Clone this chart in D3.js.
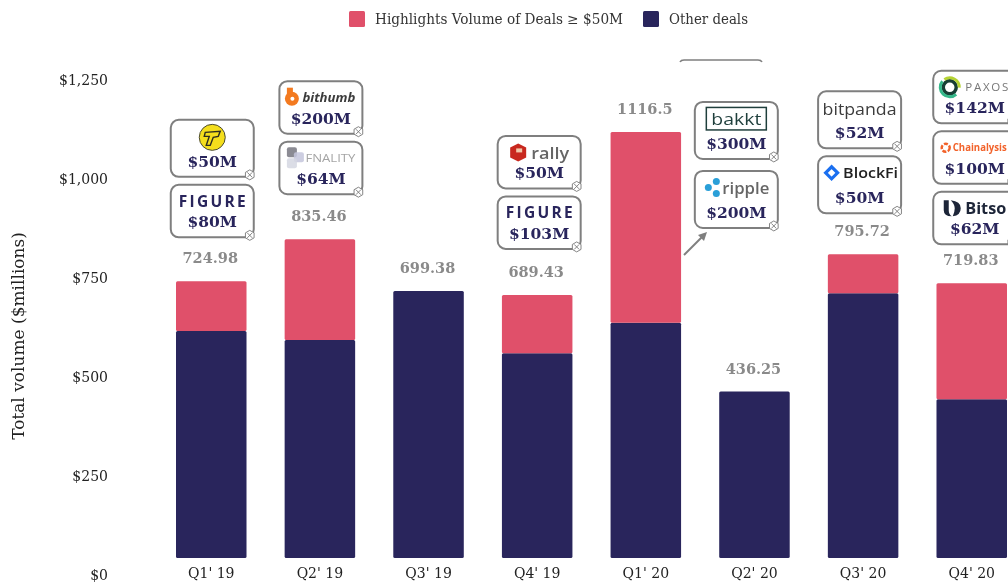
<!DOCTYPE html>
<html>
<head>
<meta charset="utf-8">
<script src="https://cdn.jsdelivr.net/npm/d3@7"></script>
<style>
    html, body { margin: 0; padding: 0; background: #fff; overflow: hidden; }
    svg { display: block; font-family: "DejaVu Serif", "Liberation Serif", serif; filter: blur(0.35px); }
    .logo { font-family: "Open Sans", "Noto Sans", sans-serif; }
</style>
</head>
<body>
<svg id="chart" width="1008" height="582"></svg>
<script>
const categories = ["Q1' 19", "Q2' 19", "Q3' 19", "Q4' 19", "Q1' 20", "Q2' 20", "Q3' 20", "Q4' 20"];
const otherDeals = [594.98, 571.46, 699.38, 536.43, 616.5, 436.25, 693.72, 415.83];
const highlightDeals = [130, 264, 0, 153, 500, 0, 102, 304];
const totalLabels = ["724.98", "835.46", "699.38", "689.43", "1116.5", "436.25", "795.72", "719.83"];
const yTicks = [0, 250, 500, 750, 1000, 1250];
const legendNames = ["Highlights Volume of Deals ≥ $50M", "Other deals"];

// callouts, bottom box first
const dealQuarter = ["Q1' 19", "Q1' 19", "Q2' 19", "Q2' 19", "Q4' 19", "Q4' 19", "Q1' 20", "Q1' 20", "Q3' 20", "Q3' 20", "Q4' 20", "Q4' 20", "Q4' 20"];
const dealLogo = ["figure", "token", "fnality", "bithumb", "figure", "rally", "ripple", "bakkt", "blockfi", "bitpanda", "bitso", "chainalysis", "paxos"];
const dealAmount = ["$80M", "$50M", "$64M", "$200M", "$103M", "$50M", "$200M", "$300M", "$50M", "$52M", "$62M", "$100M", "$142M"];

const pink = "#e0506a";
const navy = "#29255c";
const grey = "#7f7f7f";
const svg = d3.select("#chart");

// bars
const x = d3.scaleBand().domain(categories).range([176, 1007]).paddingInner(0.351).paddingOuter(0);
const yBar = d3.scaleLinear().domain([0, 1250]).range([558, 81]);
const yLabel = d3.scaleLinear().domain([0, 1250]).range([575, 80]);

const table = categories.map((c, i) => ({cat: c, other: otherDeals[i], high: highlightDeals[i]}));
const stacked = d3.stack().keys(["other", "high"])(table);

svg.append("g").selectAll("g")
    .data(stacked)
    .join("g")
    .attr("fill", d => d.key === "other" ? navy : pink)
    .selectAll("rect")
    .data(d => d.filter(s => s[1] > s[0]))
    .join("rect")
    .attr("x", d => x(d.data.cat))
    .attr("y", d => yBar(d[1]))
    .attr("width", x.bandwidth())
    .attr("height", d => yBar(d[0]) - yBar(d[1]))
    .attr("rx", 1.5);

// axes
const axisY = d3.axisLeft(yLabel).tickValues(yTicks).tickSize(0).tickPadding(0)
    .tickFormat(d => "$" + d3.format(",")(d));
svg.append("g").attr("transform", "translate(108,0)").call(axisY)
    .call(g => g.select(".domain").remove())
    .selectAll("text")
    .attr("font-family", "DejaVu Serif").attr("font-size", 14).attr("fill", "#222");

const axisX = d3.axisBottom(x).tickSize(0).tickPadding(10);
svg.append("g").attr("transform", "translate(0,558)").call(axisX)
    .call(g => g.select(".domain").remove())
    .selectAll("text")
    .attr("font-family", "DejaVu Serif").attr("font-size", 14).attr("fill", "#222");

svg.append("text")
    .attr("transform", "translate(24,336) rotate(-90)")
    .attr("text-anchor", "middle")
    .attr("font-size", 17)
    .attr("fill", "#222")
    .text("Total volume ($millions)");

// totals above the bars
svg.append("g").selectAll("text")
    .data(table)
    .join("text")
    .attr("x", d => x(d.cat) + x.bandwidth() / 2 - 1)
    .attr("y", d => yBar(d.other + d.high) - 18)
    .attr("text-anchor", "middle")
    .attr("font-size", 14.5)
    .attr("font-weight", "bold")
    .attr("fill", "#8a8a8a")
    .text((d, i) => totalLabels[i]);

// legend
const legend = svg.append("g");
const legendX = [349, 643];
legendNames.forEach((name, i) => {
    legend.append("rect")
        .attr("x", legendX[i]).attr("y", 11)
        .attr("width", 16).attr("height", 16).attr("rx", 1.5)
        .attr("fill", i === 0 ? pink : navy);
    legend.append("text")
        .attr("x", legendX[i] + 26).attr("y", 24)
        .attr("font-size", 14)
        .attr("fill", "#333")
        .attr("textLength", i === 0 ? 248 : 79)
        .attr("lengthAdjust", "spacingAndGlyphs")
        .text(name);
});

// logos, drawn round (cx, cy)
function logoText(g, str, cx, cy, size, fill, opts = {}) {
    const t = g.append("text")
        .attr("class", "logo")
        .attr("x", cx).attr("y", cy + size * 0.36)
        .attr("text-anchor", "middle")
        .attr("font-size", size)
        .attr("fill", fill)
        .attr("font-weight", opts.weight || "normal")
        .attr("font-style", opts.style || "normal")
        .text(str);
    if(opts.len)
        t.attr("textLength", opts.len).attr("lengthAdjust", opts.adjust || "spacingAndGlyphs");
    return t;
}

const logos = {
    figure(g, cx, cy) {
        logoText(g, "FIGURE", cx, cy, 15.5, navy, {weight: "bold", len: 67, adjust: "spacing"});
    },
    token(g, cx, cy) {
        g.append("circle").attr("cx", cx).attr("cy", cy + 1).attr("r", 13)
            .attr("fill", "#f4de1c").attr("stroke", "#4a4a30").attr("stroke-width", 1);
        g.append("path")
            .attr("d", d3.line()([[cx - 7, cy - 4], [cx + 8, cy - 5], [cx + 6, cy], [cx + 1, cy + 1], [cx - 2, cy + 9], [cx - 6, cy + 9], [cx - 3, cy], [cx - 8, cy]]) + "Z")
            .attr("fill", "none").attr("stroke", "#2c2c20").attr("stroke-width", 1.4);
    },
    bithumb(g, cx, cy) {
        g.append("circle").attr("cx", cx - 29).attr("cy", cy + 1).attr("r", 7).attr("fill", "#f37a20");
        g.append("rect").attr("x", cx - 34).attr("y", cy - 10).attr("width", 6).attr("height", 8).attr("fill", "#f37a20");
        g.append("circle").attr("cx", cx - 28.5).attr("cy", cy + 1).attr("r", 2).attr("fill", "#fff");
        logoText(g, "bithumb", cx + 8, cy, 13, "#3c3c3c", {weight: "bold", style: "italic", len: 53});
    },
    fnality(g, cx, cy) {
        g.append("rect").attr("x", cx - 34).attr("y", cy - 11).attr("width", 10).attr("height", 10).attr("rx", 2).attr("fill", "#8b8b93");
        g.append("rect").attr("x", cx - 27).attr("y", cy - 6).attr("width", 10).attr("height", 10).attr("rx", 2).attr("fill", "#c4c5dc").attr("opacity", 0.85);
        g.append("rect").attr("x", cx - 34).attr("y", cy).attr("width", 10).attr("height", 10).attr("rx", 2).attr("fill", "#d5d7e2").attr("opacity", 0.85);
        logoText(g, "FNALITY", cx + 9.5, cy, 10.5, "#a5a5a5", {len: 50});
    },
    rally(g, cx, cy) {
        g.append("path")
            .attr("d", d3.line()([[cx - 29, cy - 5], [cx - 21, cy - 9], [cx - 13, cy - 5], [cx - 13, cy + 5], [cx - 21, cy + 9], [cx - 29, cy + 5]]) + "Z")
            .attr("fill", "#c8281e");
        g.append("rect").attr("x", cx - 23).attr("y", cy - 4).attr("width", 6).attr("height", 4).attr("fill", "#f2c7a8");
        logoText(g, "rally", cx + 11, cy, 17, "#666", {weight: "600", len: 38});
    },
    bakkt(g, cx, cy) {
        g.append("rect").attr("x", cx - 30).attr("y", cy - 11).attr("width", 60).attr("height", 22.5)
            .attr("fill", "none").attr("stroke", "#1f3f3c").attr("stroke-width", 1.5);
        logoText(g, "bakkt", cx, cy, 17, "#1f3f3c", {len: 50});
    },
    ripple(g, cx, cy) {
        [[-28, 0], [-20, -6], [-20, 6]].forEach(p =>
            g.append("circle").attr("cx", cx + p[0]).attr("cy", cy + p[1]).attr("r", 3.5).attr("fill", "#2a9fd8"));
        logoText(g, "ripple", cx + 9.5, cy, 17, "#666", {weight: "600", len: 47});
    },
    bitpanda(g, cx, cy) {
        logoText(g, "bitpanda", cx, cy + 1, 17, "#3c3c3c", {len: 74});
    },
    blockfi(g, cx, cy) {
        g.append("path")
            .attr("d", d3.line()([[cx - 34, cy], [cx - 28, cy - 6], [cx - 22, cy], [cx - 28, cy + 6]]) + "Z")
            .attr("fill", "none").attr("stroke", "#1a6ff0").attr("stroke-width", 3.2);
        logoText(g, "BlockFi", cx + 11, cy, 14.5, "#222", {weight: "600", len: 55});
    },
    paxos(g, cx, cy) {
        g.append("circle").attr("cx", cx - 25).attr("cy", cy).attr("r", 6.5)
            .attr("fill", "none").attr("stroke", "#173f35").attr("stroke-width", 3.5);
        g.append("path").attr("d", d3.arc()({innerRadius: 8, outerRadius: 11, startAngle: -0.6, endAngle: 1.6}))
            .attr("transform", `translate(${cx - 25},${cy})`).attr("fill", "#b5d334");
        g.append("path").attr("d", d3.arc()({innerRadius: 8, outerRadius: 11, startAngle: 2.4, endAngle: 5.4}))
            .attr("transform", `translate(${cx - 25},${cy})`).attr("fill", "#35b88a");
        logoText(g, "PAXOS", cx + 12, cy, 11.5, "#777", {len: 43, adjust: "spacing"});
    },
    chainalysis(g, cx, cy) {
        g.append("circle").attr("cx", cx - 29).attr("cy", cy).attr("r", 4)
            .attr("fill", "none").attr("stroke", "#f2622a").attr("stroke-width", 2.5)
            .attr("stroke-dasharray", "4 1.5");
        logoText(g, "Chainalysis", cx + 5, cy, 10, "#f2622a", {weight: "bold", len: 54});
    },
    bitso(g, cx, cy) {
        g.append("path")
            .attr("d", `M${cx - 31},${cy - 8} h5 v10 q0,4 3,6 q-8,0 -8,-6 z`)
            .attr("fill", "#1d2538");
        g.append("path")
            .attr("d", `M${cx - 24},${cy - 8} q10,1 10,8 q0,7 -8,8 q2,-4 2,-8 q0,-4 -4,-8 z`)
            .attr("fill", "#1d2538");
        logoText(g, "Bitso", cx + 11, cy, 16, "#1d2538", {weight: "bold", len: 41});
    }
};

// stack placement per quarter: x shift from the bar, y of the lowest box bottom
const stackDx = {"Q1' 19": 1, "Q2' 19": 1, "Q4' 19": 2, "Q1' 20": 90.5, "Q3' 20": -3.5, "Q4' 20": 3};
const stackBottom = {"Q1' 19": 44, "Q2' 19": 45, "Q4' 19": 46, "Q1' 20": -96, "Q3' 20": 41, "Q4' 20": 39};
const boxW = 83, boxGap = 8;
const barTop = cat => yBar(table.find(d => d.cat === cat).other + table.find(d => d.cat === cat).high);
const nextBottom = {};

dealQuarter.forEach((q, i) => {
    const tall = q === "Q1' 20" || dealLogo[i] === "token" || q === "Q3' 20";
    const h = tall ? 57 : 52.5;
    const bottom = nextBottom[q] !== undefined ? nextBottom[q] : barTop(q) - stackBottom[q];
    const top = bottom - h;
    nextBottom[q] = top - boxGap - (q === "Q1' 20" ? 4 : 0);
    const cx = x(q) + x.bandwidth() / 2 + stackDx[q];
    const left = cx - boxW / 2;

    const g = svg.append("g");
    g.append("rect")
        .attr("x", left).attr("y", top)
        .attr("width", boxW).attr("height", h).attr("rx", 8)
        .attr("fill", "#fff").attr("stroke", grey).attr("stroke-width", 2);
    logos[dealLogo[i]](g, cx, top + 16.5);
    g.append("text")
        .attr("x", cx).attr("y", bottom - 10)
        .attr("text-anchor", "middle")
        .attr("font-size", 15.5)
        .attr("font-weight", "bold")
        .attr("fill", navy)
        .text(dealAmount[i]);

    // little corner badge, a hexagon with a cross
    const bx = left + boxW - 4, by = bottom - 2;
    const hex = d3.range(6).map(k => [bx + 5 * Math.sin(k * Math.PI / 3), by + 5 * Math.cos(k * Math.PI / 3)]);
    g.append("path").attr("d", d3.line()(hex) + "Z")
        .attr("fill", "#fff").attr("stroke", "#777").attr("stroke-width", 0.9);
    g.append("path")
        .attr("d", `M${bx - 2.5},${by - 2.5} L${bx + 2.5},${by + 2.5} M${bx + 2.5},${by - 2.5} L${bx - 2.5},${by + 2.5}`)
        .attr("stroke", "#777").attr("stroke-width", 0.9);
});

// edge of a box cut off above the Q1' 20 stack
svg.append("path")
    .attr("d", "M680,62 Q681,60 684,60 H758 Q761,60 762,62")
    .attr("fill", "none").attr("stroke", grey).attr("stroke-width", 1.6);

// arrow to the ripple box
svg.append("path").attr("d", "M684,255 L703,236").attr("stroke", grey).attr("stroke-width", 2);
svg.append("path").attr("d", "M707,232 L698,235 L704,241 Z").attr("fill", grey);
</script>
</body>
</html>
